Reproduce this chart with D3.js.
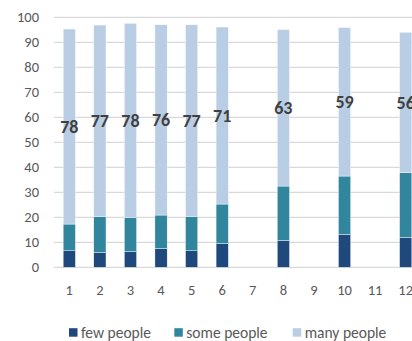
<!DOCTYPE html>
<html>
<head>
<meta charset="utf-8">
<script src="https://cdn.jsdelivr.net/npm/d3@7"></script>
<style>
  body { margin: 0; background: #fff; }
  svg { display: block; font-family: Carlito, Calibri, Lato, sans-serif; }
</style>
</head>
<body>
<div id="chart"></div>
<script>
// values (months 7, 9, 11 have no bar)
var categories = ["1", "2", "3", "4", "5", "6", "7", "8", "9", "10", "11", "12"];
var fewPeople  = [6.6, 5.9, 6.3, 7.6, 6.6, 9.5, null, 10.7, null, 13.1, null, 12.0];
var somePeople = [10.7, 14.4, 13.7, 13.3, 13.7, 15.8, null, 21.8, null, 23.4, null, 25.8];
var manyPeople = [78.0, 76.6, 77.6, 76.1, 76.7, 70.8, null, 62.6, null, 59.4, null, 56.2];
var seriesNames = ["few people", "some people", "many people"];
var yTicks = [0, 10, 20, 30, 40, 50, 60, 70, 80, 90, 100];

var width = 412, height = 341;
var margin = {top: 17.3, left: 54, bottom: 267.3, right: 421};
var colors = ["#1f497d", "#31859c", "#b9cde5"];

var rows = categories.map(function(c, i) {
  return {cat: c, few: fewPeople[i], some: somePeople[i], many: manyPeople[i]};
});
var keys = ["few", "some", "many"];

var svg = d3.select("#chart").append("svg")
    .attr("width", width)
    .attr("height", height);

var x = d3.scaleBand()
    .domain(categories)
    .range([margin.left, margin.right])
    .paddingInner(0.6)
    .paddingOuter(0.3);

var y = d3.scaleLinear()
    .domain([0, 100])
    .range([margin.bottom, margin.top]);

// gridlines
svg.append("g")
    .selectAll("line")
    .data(yTicks)
    .join("line")
    .attr("x1", margin.left)
    .attr("x2", width)
    .attr("y1", function(d) { return y(d); })
    .attr("y2", function(d) { return y(d); })
    .attr("stroke", "#d9d9d9")
    .attr("stroke-width", 1.3);

// y tick labels
svg.append("g")
    .selectAll("text")
    .data(yTicks)
    .join("text")
    .attr("x", 39)
    .attr("y", function(d) { return y(d); })
    .attr("dy", "0.35em")
    .attr("text-anchor", "end")
    .attr("font-size", 14.5)
    .attr("fill", "#595959")
    .text(function(d) { return d; });

// x tick labels
svg.append("g")
    .selectAll("text")
    .data(categories)
    .join("text")
    .attr("x", function(d) { return x(d) + x.bandwidth() / 2; })
    .attr("y", 289.5)
    .attr("dy", "0.35em")
    .attr("text-anchor", "middle")
    .attr("font-size", 14.5)
    .attr("fill", "#595959")
    .text(function(d) { return d; });

var stacked = d3.stack().keys(keys)
    .value(function(d, k) { return d[k] || 0; })(rows);

svg.append("g")
    .selectAll("g")
    .data(stacked)
    .join("g")
    .attr("fill", function(d, i) { return colors[i]; })
    .selectAll("rect")
    .data(function(d) { return d.filter(function(p) { return p.data.many != null; }); })
    .join("rect")
    .attr("x", function(d) { return x(d.data.cat); })
    .attr("y", function(d) { return y(d[1]); })
    .attr("width", x.bandwidth())
    .attr("height", function(d) { return y(d[0]) - y(d[1]); })
    .attr("stroke", "#ffffff")
    .attr("stroke-width", 0.4);

// labels for the "many people" segment
var manyLayer = stacked[2].filter(function(p) { return p.data.many != null; });
svg.append("g")
    .selectAll("text")
    .data(manyLayer)
    .join("text")
    .attr("x", function(d) { return x(d.data.cat) + x.bandwidth() / 2; })
    .attr("y", function(d) { return (y(d[0]) + y(d[1])) / 2; })
    .attr("dy", "0.35em")
    .attr("text-anchor", "middle")
    .attr("font-size", 18)
    .attr("font-weight", "bold")
    .attr("fill", "#404040")
    .text(function(d) { return d3.format(".0f")(d.data.many); });

// legend
var legendX = [69, 174.3, 292.7];
var legend = svg.append("g")
    .selectAll("g")
    .data(seriesNames)
    .join("g")
    .attr("transform", function(d, i) { return "translate(" + legendX[i] + ",332.5)"; });

legend.append("rect")
    .attr("x", 0)
    .attr("y", -4.3)
    .attr("width", 8.5)
    .attr("height", 8.5)
    .attr("fill", function(d, i) { return colors[i]; });

legend.append("text")
    .attr("x", 12)
    .attr("y", 0)
    .attr("dy", "0.35em")
    .attr("font-size", 15.5)
    .attr("fill", "#595959")
    .text(function(d) { return d; });
</script>
</body>
</html>
